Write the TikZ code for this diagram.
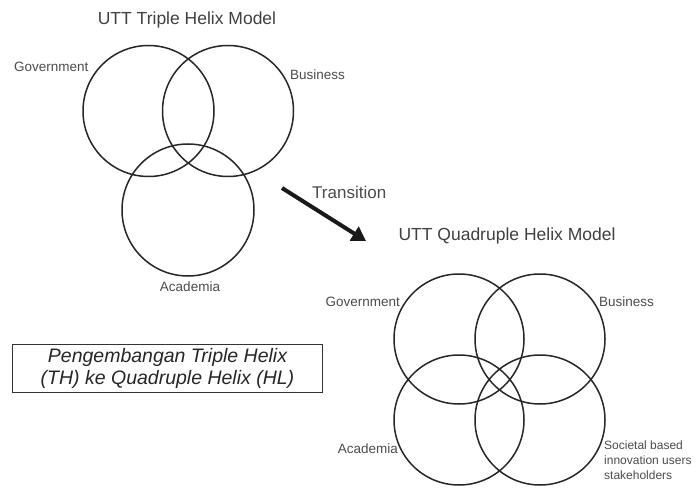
\documentclass[tikz,border=0pt]{standalone}
\usepackage{fontspec}
\setmainfont{Liberation Sans}
\usetikzlibrary{arrows.meta}
\begin{document}
\begin{tikzpicture}[x=1pt,y=-1pt,
  ring/.style={draw=black!85,line width=1.5pt},
  lbl/.style={text=black!70,font=\fontsize{13.5}{15}\selectfont,inner sep=0pt},
  ttl/.style={text=black!75,font=\fontsize{17.5}{20}\selectfont,inner sep=0pt}]
\useasboundingbox[fill=white] (0,0) rectangle (696,489);
% Triple helix
\node[ttl] (t1) at (187,20) {UTT Triple Helix Model};
\draw[ring] (148.5,111) circle (65.5);
\draw[ring] (228,111) circle (65.5);
\draw[ring] (188,210) circle (66);
\node[lbl,anchor=west] (g1) at (14,67) {Government};
\node[lbl,anchor=west] (b1) at (290,75) {Business};
\node[lbl] (a1) at (190,287) {Academia};
% transition
\coordinate (as) at (282,188);
\coordinate (ae) at (366,241);
\draw[line width=4pt,-{Triangle[length=14pt,width=16pt]},black!90] (as) -- (ae);
\node[lbl,font=\fontsize{17}{20}\selectfont,anchor=west] (tr) at (312,192) {Transition};
% Quadruple helix
\node[ttl] (t2) at (507,236) {UTT Quadruple Helix Model};
\draw[ring] (459,339) circle (65);
\draw[ring] (540,339) circle (65);
\draw[ring] (459,420) circle (65);
\draw[ring] (540,420) circle (65);
\node[lbl,anchor=east] (g2) at (400,302) {Government};
\node[lbl,anchor=west] (b2) at (599,302) {Business};
\node[lbl,anchor=east] (a2) at (398,449) {Academia};
\node[lbl,anchor=north west,align=left,font=\fontsize{12}{15}\selectfont] (s2) at (604,441) {Societal based\\innovation users\\stakeholders};
% box
\node[draw=black!80,line width=1pt,minimum width=310pt,minimum height=48pt,inner sep=0pt,
  align=center,font=\fontsize{19.5}{22}\selectfont\itshape,text=black!85] (bx) at (167.5,368)
  {Pengembangan Triple Helix\\(TH) ke Quadruple Helix (HL)};
\end{tikzpicture}
\end{document}
